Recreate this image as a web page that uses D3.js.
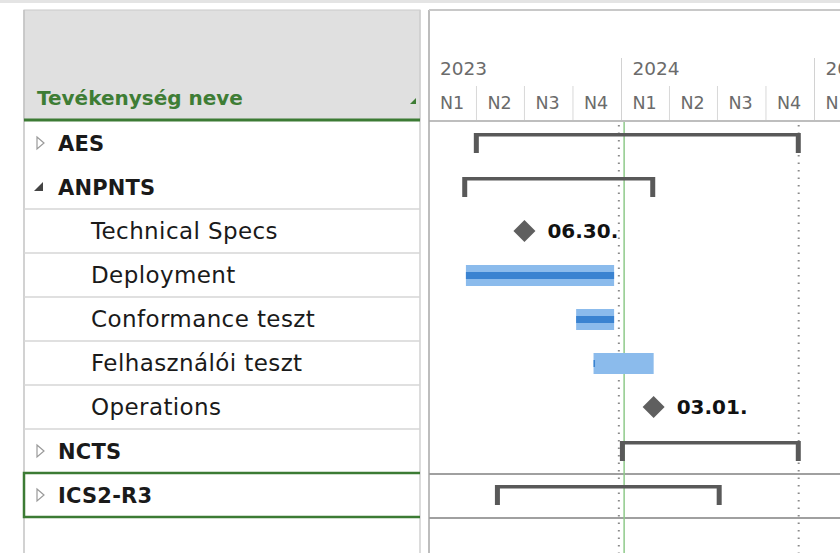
<!DOCTYPE html>
<html>
<head>
<meta charset="utf-8">
<script src="https://cdn.jsdelivr.net/npm/d3@7"></script>
<style>
  body { margin: 0; background: #fff; }
  svg { display: block; font-family: "DejaVu Sans", "Open Sans", sans-serif; }
</style>
</head>
<body>
<div id="gantt"></div>
<script>
// task table, one entry per row
const taskNames = ["AES", "ANPNTS", "Technical Specs", "Deployment", "Conformance teszt",
                   "Felhasználói teszt", "Operations", "NCTS", "ICS2-R3"];
const taskLevels = [0, 0, 1, 1, 1, 1, 1, 0, 0];
const taskTypes = ["summary", "summary", "milestone", "task", "task", "task", "milestone", "summary", "summary"];
const taskExpanded = [false, true, null, null, null, null, null, false, false];
const taskStarts = ["2023-03-27", "2023-03-05", "2023-06-30", "2023-03-12", "2023-10-07",
                    "2023-11-09", "2024-03-01", "2023-12-29", "2023-05-06"];
const taskEnds = ["2024-12-06", "2024-03-05", "2023-06-30", "2023-12-18", "2023-12-18",
                  "2024-03-02", "2024-03-01", "2024-12-06", "2024-07-09"];
const taskProgress = [0, 0, 0, 1, 1, 0.02, 0, 0, 0];

const years = [2023, 2024, 2025];
const quarterLabels = ["N1", "N2", "N3", "N4"];
const todayDate = "2024-01-06";
const deadlineDates = ["2023-12-27", "2024-12-02"];
const headerTitle = "Tevékenység neve";

const W = 840, H = 553;
const leftX0 = 24, leftX1 = 420, chartX0 = 429;
const headTop = 10, headBottom = 120, rowH = 44, rowTop = 121;
const selectedRow = 8;

const parse = d3.timeParse("%Y-%m-%d");
const fmt = d3.timeFormat("%m.%d.");

const rows = taskNames.map((name, i) => ({
  name, level: taskLevels[i], type: taskTypes[i], expanded: taskExpanded[i],
  start: parse(taskStarts[i]), end: parse(taskEnds[i]), progress: taskProgress[i]
}));

const x = d3.scaleTime()
  .domain([new Date(2023, 0, 1), new Date(2025, 0, 1)])
  .range([chartX0, 814.5]);

const y = d3.scaleBand()
  .domain(d3.range(rows.length))
  .range([rowTop, rowTop + rowH * rows.length]);

const svg = d3.select("#gantt").append("svg")
  .attr("width", W).attr("height", H);

// top strip
svg.append("rect").attr("x", 0).attr("y", 0).attr("width", W).attr("height", 3).attr("fill", "#e4e4e4");

// ---- left grid ----
const left = svg.append("g");
left.append("rect")
  .attr("x", leftX0).attr("y", headTop).attr("width", leftX1 - leftX0).attr("height", headBottom - headTop)
  .attr("fill", "#e0e0e0").attr("stroke", "#c9c9c9");
left.append("line").attr("x1", leftX0).attr("x2", leftX0).attr("y1", headTop).attr("y2", H)
  .attr("stroke", "#c3c3c3").attr("stroke-width", 1.5);
left.append("line").attr("x1", leftX1).attr("x2", leftX1).attr("y1", headTop).attr("y2", H)
  .attr("stroke", "#d0d0d0").attr("stroke-width", 1.5);

left.append("text")
  .attr("x", 37).attr("y", 105)
  .attr("fill", "#3e7d35").attr("font-size", 20).attr("font-weight", 700)
  .text(headerTitle);
left.append("path").attr("d", "M416,98 L416,104 L410,104 Z").attr("fill", "#3e7d35");

// row separators
left.selectAll(".sep").data(d3.range(1, rows.length - 1)).join("line")
  .attr("x1", leftX0).attr("x2", leftX1)
  .attr("y1", i => y(i) + rowH).attr("y2", i => y(i) + rowH)
  .attr("stroke", "#d6d6d6").attr("stroke-width", 1.5);

left.append("line").attr("x1", leftX0).attr("x2", leftX1).attr("y1", headBottom).attr("y2", headBottom)
  .attr("stroke", "#3c7b34").attr("stroke-width", 3);

// selected row box
const selY = y(selectedRow);
left.append("path")
  .attr("d", `M${leftX1},${selY} H${leftX0} V${selY + rowH} H${leftX1}`)
  .attr("fill", "none").attr("stroke", "#3c7b34").attr("stroke-width", 2.5);

const rowText = left.selectAll(".row").data(rows).join("g")
  .attr("transform", (d, i) => `translate(0,${y(i) + rowH / 2})`);

rowText.append("text")
  .attr("x", d => d.level === 0 ? 58 : 91)
  .attr("y", 8)
  .attr("font-size", d => d.level === 0 ? 21 : 23)
  .attr("letter-spacing", d => d.level === 0 ? 0.2 : 0.4)
  .attr("font-weight", d => d.level === 0 ? 700 : 400)
  .attr("fill", "#1a1a1a")
  .text(d => d.name);

rowText.filter(d => d.level === 0).append("path")
  .attr("d", d => d.expanded ? "M43,-5 L43,4 L34,4 Z" : "M37,-6 L44,0 L37,6 Z")
  .attr("fill", d => d.expanded ? "#444" : "none")
  .attr("stroke", d => d.expanded ? "none" : "#9a9a9a")
  .attr("stroke-width", 1.2);

// ---- timeline ----
const chart = svg.append("g");
chart.append("line").attr("x1", chartX0).attr("x2", chartX0).attr("y1", headTop).attr("y2", H)
  .attr("stroke", "#bdbdbd").attr("stroke-width", 2);
chart.append("line").attr("x1", chartX0).attr("x2", W).attr("y1", headTop).attr("y2", headTop)
  .attr("stroke", "#c8c8c8").attr("stroke-width", 2);
chart.append("line").attr("x1", chartX0).attr("x2", W).attr("y1", headBottom + 1).attr("y2", headBottom + 1)
  .attr("stroke", "#a8a8a8").attr("stroke-width", 1.5);

// year header
const yearStarts = years.map(yr => new Date(yr, 0, 1));
chart.selectAll(".yr").data(yearStarts).join("text")
  .attr("x", d => x(d) + 11).attr("y", 75)
  .attr("fill", "#6b6b6b").attr("font-size", 18.5)
  .text(d => d.getFullYear());
chart.selectAll(".yrline").data(yearStarts.slice(1)).join("line")
  .attr("x1", d => x(d)).attr("x2", d => x(d)).attr("y1", 58).attr("y2", headBottom)
  .attr("stroke", "#d2d2d2");

// quarter header
const quarters = d3.timeMonth.every(3).range(new Date(2023, 0, 1), new Date(2025, 6, 1));
chart.selectAll(".q").data(quarters).join("text")
  .attr("x", d => x(d) + 11).attr("y", 109)
  .attr("fill", "#6b6b6b").attr("font-size", 17.5)
  .text(d => quarterLabels[Math.floor(d.getMonth() / 3)]);
chart.selectAll(".qline").data(quarters.filter(d => d.getMonth() !== 0)).join("line")
  .attr("x1", d => x(d)).attr("x2", d => x(d)).attr("y1", 86).attr("y2", headBottom)
  .attr("stroke", "#d8d8d8");

// selected row lines
[selY, selY + rowH].forEach(v => {
  chart.append("line").attr("x1", chartX0).attr("x2", W).attr("y1", v + 1).attr("y2", v + 1)
    .attr("stroke", "#a0a0a0").attr("stroke-width", 2);
});

// deadline dotted lines
chart.selectAll(".dl").data(deadlineDates.map(parse)).join("line")
  .attr("x1", d => x(d)).attr("x2", d => x(d)).attr("y1", headBottom + 5).attr("y2", H)
  .attr("stroke", "#8a8a8a").attr("stroke-width", 2).attr("stroke-dasharray", "1.6,5.9");

// today line
chart.append("line")
  .attr("x1", x(parse(todayDate))).attr("x2", x(parse(todayDate)))
  .attr("y1", headBottom + 2).attr("y2", H)
  .attr("stroke", "#8fca8a").attr("stroke-width", 1.5);

const marks = chart.selectAll(".mark").data(rows).join("g")
  .attr("transform", (d, i) => `translate(0,${y(i) + rowH / 2})`);

// summary brackets
marks.filter(d => d.type === "summary").append("path")
  .attr("d", d => {
    const a = x(d.start), b = x(d.end);
    return `M${a},-10 H${b} V10 H${b - 5} V-6.5 H${a + 5} V10 H${a} Z`;
  })
  .attr("fill", "#595959");

// task bars
const tasks = marks.filter(d => d.type === "task");
tasks.append("rect")
  .attr("x", d => x(d.start)).attr("y", -10)
  .attr("width", d => x(d.end) - x(d.start)).attr("height", 21)
  .attr("fill", "#8bbbec");
tasks.append("rect")
  .attr("x", d => x(d.start)).attr("y", -3)
  .attr("width", d => Math.max(1.5, (x(d.end) - x(d.start)) * d.progress)).attr("height", 7)
  .attr("fill", "#3a83d1");

// milestones
const ms = marks.filter(d => d.type === "milestone");
ms.append("path")
  .attr("d", d => {
    const c = x(d3.timeDay.offset(d.start, 1));
    return `M${c},-11 L${c + 11},0 L${c},11 L${c - 11},0 Z`;
  })
  .attr("fill", "#5f5f5f");
ms.append("text")
  .attr("x", d => x(d3.timeDay.offset(d.start, 1)) + 23)
  .attr("y", 7)
  .attr("font-size", 20).attr("font-weight", 700).attr("fill", "#111")
  .text(d => fmt(d.start));
</script>
</body>
</html>
